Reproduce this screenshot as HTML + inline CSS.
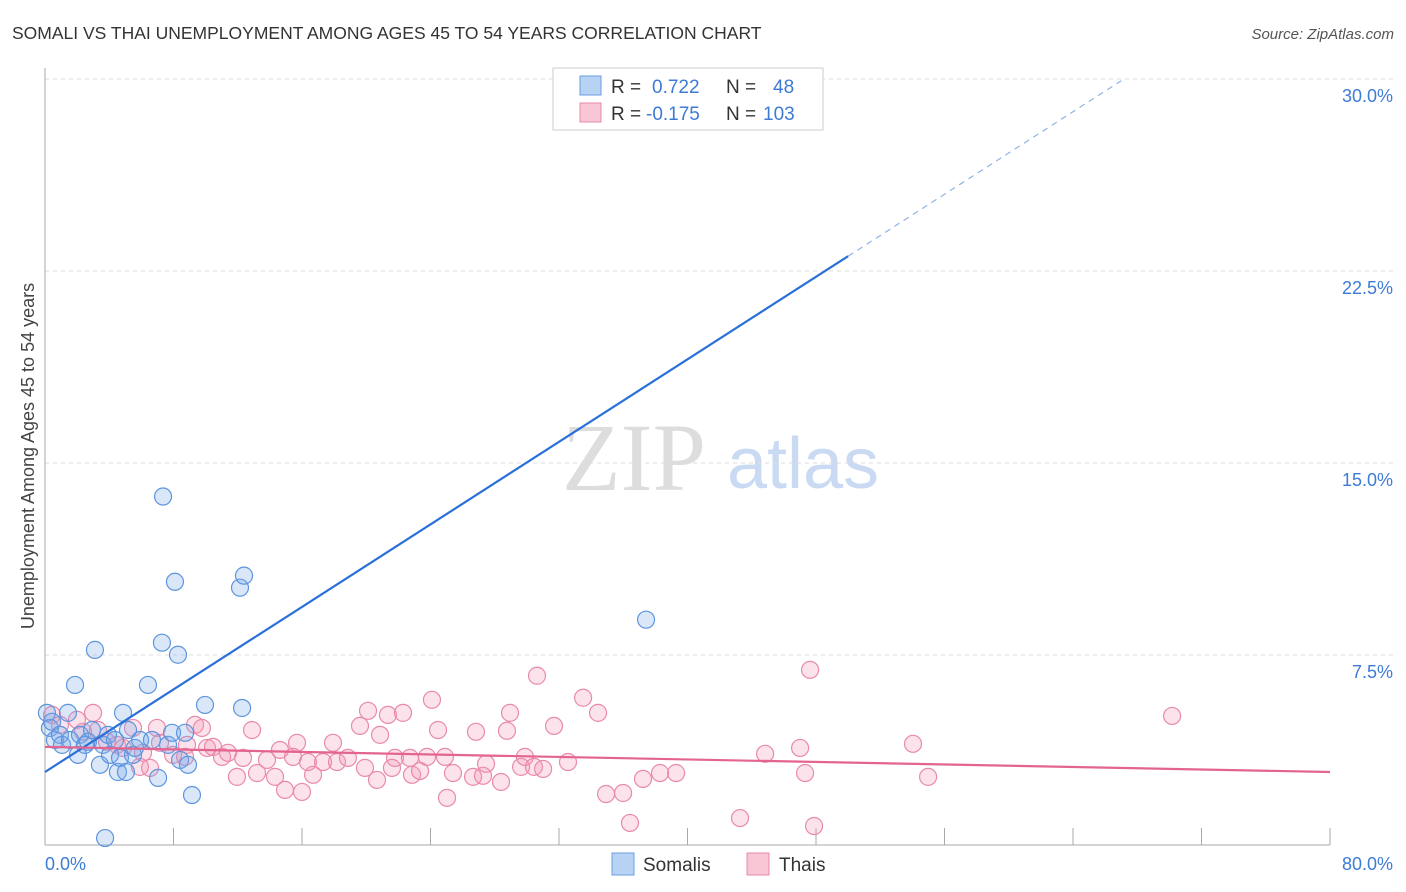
<!DOCTYPE html>
<html><head><meta charset="utf-8"><style>
body{margin:0;background:#fff;font-family:"Liberation Sans",sans-serif;}
svg{display:block}
</style></head><body>
<svg id="chart" width="1406" height="892" viewBox="0 0 1406 892">
<text x="12" y="39" font-size="17.5" fill="#333">SOMALI VS THAI UNEMPLOYMENT AMONG AGES 45 TO 54 YEARS CORRELATION CHART</text>
<text x="1394" y="39" font-size="15" fill="#555" font-style="italic" text-anchor="end">Source: ZipAtlas.com</text>
<g>
<text x="634" y="490" font-size="96" font-family="Liberation Serif,serif" fill="#ddd" text-anchor="middle">ZIP</text>
<text x="803" y="488" font-size="72" fill="#c9daf2" text-anchor="middle">atlas</text>
</g>
<g id="grid"></g>
<g id="axes"></g>
<g id="pts"></g>
<g id="lines"></g>
<text transform="translate(34,456) rotate(-90)" font-size="18" fill="#444" text-anchor="middle">Unemployment Among Ages 45 to 54 years</text>
<g>
<rect x="553" y="68" width="270" height="62" fill="#fff" stroke="#ccc"/>
<rect x="580" y="76" width="21" height="19" fill="#b8d2f4" stroke="#6a9de0"/>
<rect x="580" y="103" width="21" height="19" fill="#f9c6d6" stroke="#e88aaa"/>
<text x="611" y="93" font-size="19" fill="#333">R =</text>
<text x="652" y="93" font-size="19" fill="#3d7bd6">0.722</text>
<text x="726" y="93" font-size="19" fill="#333">N =</text>
<text x="773" y="93" font-size="19" fill="#3d7bd6">48</text>
<text x="611" y="120" font-size="19" fill="#333">R =</text>
<text x="646" y="120" font-size="19" fill="#3d7bd6">-0.175</text>
<text x="726" y="120" font-size="19" fill="#333">N =</text>
<text x="763" y="120" font-size="19" fill="#3d7bd6">103</text>
</g>
<g>
<rect x="612" y="853" width="22" height="22" fill="#b8d2f4" stroke="#6a9de0"/>
<text x="643" y="871" font-size="19" fill="#333">Somalis</text>
<rect x="747" y="853" width="22" height="22" fill="#f9c6d6" stroke="#e88aaa"/>
<text x="779" y="871" font-size="19" fill="#333">Thais</text>
</g>
</svg>
<script>
const yTicks=[7.5,15,22.5,30];
const yTickLabels=["7.5%","15.0%","22.5%","30.0%"];
const xTickCount=10;
const somaliX=[0.12,0.31,0.62,0.44,0.93,1.06,1.43,1.56,1.87,2.05,2.18,2.49,2.68,3.11,2.93,3.42,3.61,3.92,4.05,4.36,4.54,4.67,4.86,5.04,5.17,5.48,5.60,5.92,6.41,6.66,7.04,7.28,7.35,7.66,7.91,8.09,8.28,8.41,8.72,8.90,9.15,9.96,12.14,12.39,12.27,3.74,37.42,41.5];
const somaliY=[5.24,4.65,4.18,4.89,4.38,3.99,5.24,4.18,6.33,3.60,4.38,3.99,4.11,7.70,4.57,3.21,3.99,4.38,3.60,4.18,2.93,3.48,5.24,2.93,4.57,3.60,3.87,4.18,6.33,4.18,2.70,7.98,13.69,3.99,4.46,10.36,7.51,3.40,4.46,3.21,2.03,5.55,10.13,10.60,5.43,0.35,8.88,29.7];
const thaiX=[0.44,0.93,1.99,2.99,2.37,3.30,3.86,4.48,5.48,4.86,6.10,6.54,5.91,6.97,7.16,7.97,8.84,9.34,9.77,8.72,10.09,10.46,11.02,11.39,11.95,12.33,12.89,13.20,13.82,14.32,14.63,14.94,15.69,15.44,16.00,16.37,16.69,17.31,17.93,18.18,18.86,19.61,20.11,19.92,20.67,20.86,21.35,21.79,21.60,22.29,22.72,22.85,23.35,23.78,24.09,24.47,24.90,25.40,25.03,26.65,26.83,27.27,27.46,28.39,28.76,28.95,29.64,29.88,30.44,30.63,31.01,31.69,32.56,33.50,34.43,34.93,35.99,36.42,37.23,38.29,39.29,43.27,44.83,47.01,47.63,47.32,47.88,54.04,54.98,70.17];
const thaiY=[5.16,4.77,4.97,5.24,4.50,4.57,4.11,3.99,4.65,3.87,3.68,3.09,3.13,4.65,4.07,3.60,3.99,4.77,4.65,3.52,3.87,3.91,3.52,3.68,2.74,3.48,4.57,2.89,3.40,2.74,3.79,2.23,4.07,3.52,2.15,3.32,2.82,3.32,4.07,3.32,3.48,4.73,5.32,3.09,2.62,4.38,5.16,3.48,3.09,5.24,3.48,2.82,2.97,3.52,5.75,4.57,3.52,2.89,1.92,2.74,4.50,2.78,3.25,2.54,4.54,5.24,3.13,3.52,3.13,6.69,3.05,4.73,3.32,5.83,5.24,2.07,2.11,0.94,2.66,2.89,2.89,1.13,3.64,3.87,6.92,2.89,0.82,4.03,2.74,5.12];
const somaliTrend=[2.93,0.403];
const thaiTrend=[3.91,-0.01225];
const NS="http://www.w3.org/2000/svg";
const X0=45,X1=1330,Y0=847,PXY=192/7.5;
const sx=v=>X0+(v/80)*(X1-X0);
const sy=v=>Y0-v*PXY;
function mk(tag,attrs,parent){const e=document.createElementNS(NS,tag);for(const k in attrs)e.setAttribute(k,attrs[k]);parent.appendChild(e);return e;}
const grid=document.getElementById('grid'),axes=document.getElementById('axes');
yTicks.forEach((t,i)=>{
 const l=mk('line',{x1:X0,x2:1393,y1:sy(t),y2:sy(t),stroke:'#ddd','stroke-dasharray':'4,4'},grid);
 
 
 const tx=mk('text',{x:1393,y:sy(t)+23,'font-size':18,fill:'#3d7bd6','text-anchor':'end'},axes);
 tx.textContent=yTickLabels[i];
 
 
});
mk('line',{x1:X0,x2:X0,y1:68,y2:845,stroke:'#aaa'},axes);
mk('line',{x1:X0,x2:X1,y1:845,y2:845,stroke:'#aaa'},axes);
for(let i=1;i<=xTickCount;i++){const x=sx(i*8);mk('line',{x1:x,x2:x,y1:828,y2:845,stroke:'#aaa'},axes);}
const xl0=mk('text',{x:45,y:870,'font-size':18,fill:'#3d7bd6'},axes);xl0.textContent='0.0%';


const xl1=mk('text',{x:1393,y:870,'font-size':18,fill:'#3d7bd6','text-anchor':'end'},axes);xl1.textContent='80.0%';


const pts=document.getElementById('pts');
thaiX.forEach((x,i)=>{const c=mk('circle',{cx:sx(x),cy:sy(thaiY[i]),r:8.5,fill:'rgba(244,150,180,0.28)',stroke:'#e98aab','stroke-width':1.2},pts);
 
 });
somaliX.forEach((x,i)=>{const c=mk('circle',{cx:sx(x),cy:sy(somaliY[i]),r:8.5,fill:'rgba(120,170,235,0.28)',stroke:'#5e95de','stroke-width':1.2},pts);
 
 });
const lines=document.getElementById('lines');
const bEnd=50,bDash=67;
const bl=mk('line',{x1:sx(0),y1:sy(somaliTrend[0]),x2:sx(bEnd),y2:sy(somaliTrend[0]+somaliTrend[1]*bEnd),stroke:'#2a70d8','stroke-width':2.2},lines);


const bd=mk('line',{x1:sx(bEnd),y1:sy(somaliTrend[0]+somaliTrend[1]*bEnd),x2:sx(bDash),y2:sy(somaliTrend[0]+somaliTrend[1]*bDash),stroke:'#8fb3e6','stroke-width':1.2,'stroke-dasharray':'6,5'},lines);


const tl=mk('line',{x1:sx(0),y1:sy(thaiTrend[0]),x2:sx(80),y2:sy(thaiTrend[0]+thaiTrend[1]*80),stroke:'#e3648f','stroke-width':2.2},lines);


</script>
</body></html>
